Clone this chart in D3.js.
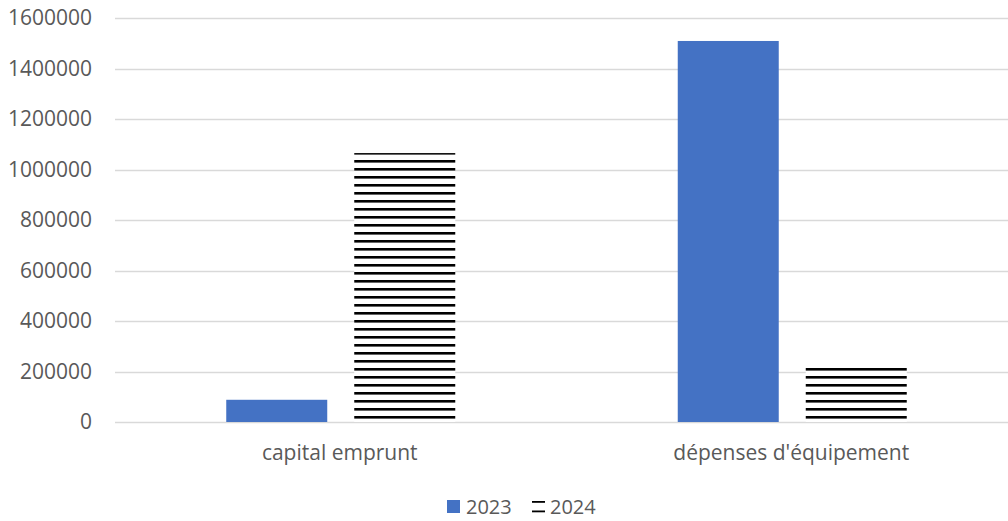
<!DOCTYPE html>
<html>
<head>
<meta charset="utf-8">
<script src="https://cdn.jsdelivr.net/npm/d3@7"></script>
<style>
  body { margin: 0; background: #fff; }
  svg { display: block; font-family: "Open Sans", "Liberation Sans", sans-serif; }
</style>
</head>
<body>
<div id="chart"></div>
<script>
// Data
var categories = ["capital emprunt", "dépenses d'équipement"];
var series = ["2023", "2024"];
var values2023 = [88000, 1509000];
var values2024 = [1065000, 214000];
var yTicks = [0, 200000, 400000, 600000, 800000, 1000000, 1200000, 1400000, 1600000];

var W = 1008, H = 521;
var plot = {left: 115, right: 1018, top: 18, bottom: 422};

var svg = d3.select("#chart").append("svg")
  .attr("width", W)
  .attr("height", H);

// Horizontal line hatch for the 2024 series
var defs = svg.append("defs");
var pat = defs.append("pattern")
  .attr("id", "hatch")
  .attr("patternUnits", "userSpaceOnUse")
  .attr("width", 8)
  .attr("height", 8);
pat.append("rect").attr("width", 8).attr("height", 8).attr("fill", "#fff");
pat.append("rect").attr("y", 0).attr("width", 8).attr("height", 2.6).attr("fill", "#000");

var y = d3.scaleLinear()
  .domain([0, 1600000])
  .range([plot.bottom, plot.top]);

var x0 = d3.scaleBand()
  .domain(categories)
  .range([plot.left, plot.right]);

var groupW = 229;
var x1 = d3.scaleBand()
  .domain(series)
  .range([(x0.bandwidth() - groupW) / 2, (x0.bandwidth() + groupW) / 2])
  .paddingInner(0.211);

// Gridlines
svg.append("g")
  .selectAll("line")
  .data(yTicks)
  .join("line")
    .attr("x1", plot.left)
    .attr("x2", plot.right)
    .attr("y1", d => Math.round(y(d)) + 0.5)
    .attr("y2", d => Math.round(y(d)) + 0.5)
    .attr("stroke", "#d9d9d9")
    .attr("stroke-width", 1.3);

// Y axis labels
svg.append("g")
  .selectAll("text")
  .data(yTicks)
  .join("text")
    .attr("x", 92)
    .attr("y", d => y(d))
    .attr("dy", "0.35em")
    .attr("text-anchor", "end")
    .attr("font-size", 21)
    .attr("fill", "#595959")
    .text(d => d);

// Bars
var rows = categories.map((c, i) => ({cat: c, vals: [values2023[i], values2024[i]]}));
var fills = {"2023": "#4472c4", "2024": "url(#hatch)"};

svg.append("g")
  .selectAll("g")
  .data(rows)
  .join("g")
    .attr("transform", d => "translate(" + x0(d.cat) + ",0)")
  .selectAll("rect")
  .data(d => series.map((s, j) => ({s: s, v: d.vals[j]})))
  .join("rect")
    .attr("x", d => x1(d.s))
    .attr("width", x1.bandwidth())
    .attr("y", d => y(d.v))
    .attr("height", d => y(0) - y(d.v))
    .attr("fill", d => fills[d.s]);

// Category labels
svg.append("g")
  .selectAll("text")
  .data(categories)
  .join("text")
    .attr("x", d => x0(d) + x0.bandwidth() / 2 - 1)
    .attr("y", 460)
    .attr("text-anchor", "middle")
    .attr("font-size", 21)
    .attr("fill", "#595959")
    .text(d => d);

// Legend
var legend = svg.append("g");
var lx = [447, 532];
series.forEach(function(s, i) {
  var g = legend.append("g").attr("transform", "translate(" + lx[i] + ",500)");
  if (s === "2023") {
    g.append("rect").attr("width", 13).attr("height", 13).attr("fill", "#4472c4");
  } else {
    g.append("rect").attr("x", 0).attr("y", 1).attr("width", 13).attr("height", 1.8).attr("fill", "#000");
    g.append("rect").attr("x", 0).attr("y", 10.5).attr("width", 13).attr("height", 1.8).attr("fill", "#000");
  }
  g.append("text")
    .attr("x", i === 0 ? 19 : 18)
    .attr("y", 6.5)
    .attr("dy", "0.35em")
    .attr("font-size", 20)
    .attr("fill", "#595959")
    .text(s);
});
</script>
</body>
</html>
